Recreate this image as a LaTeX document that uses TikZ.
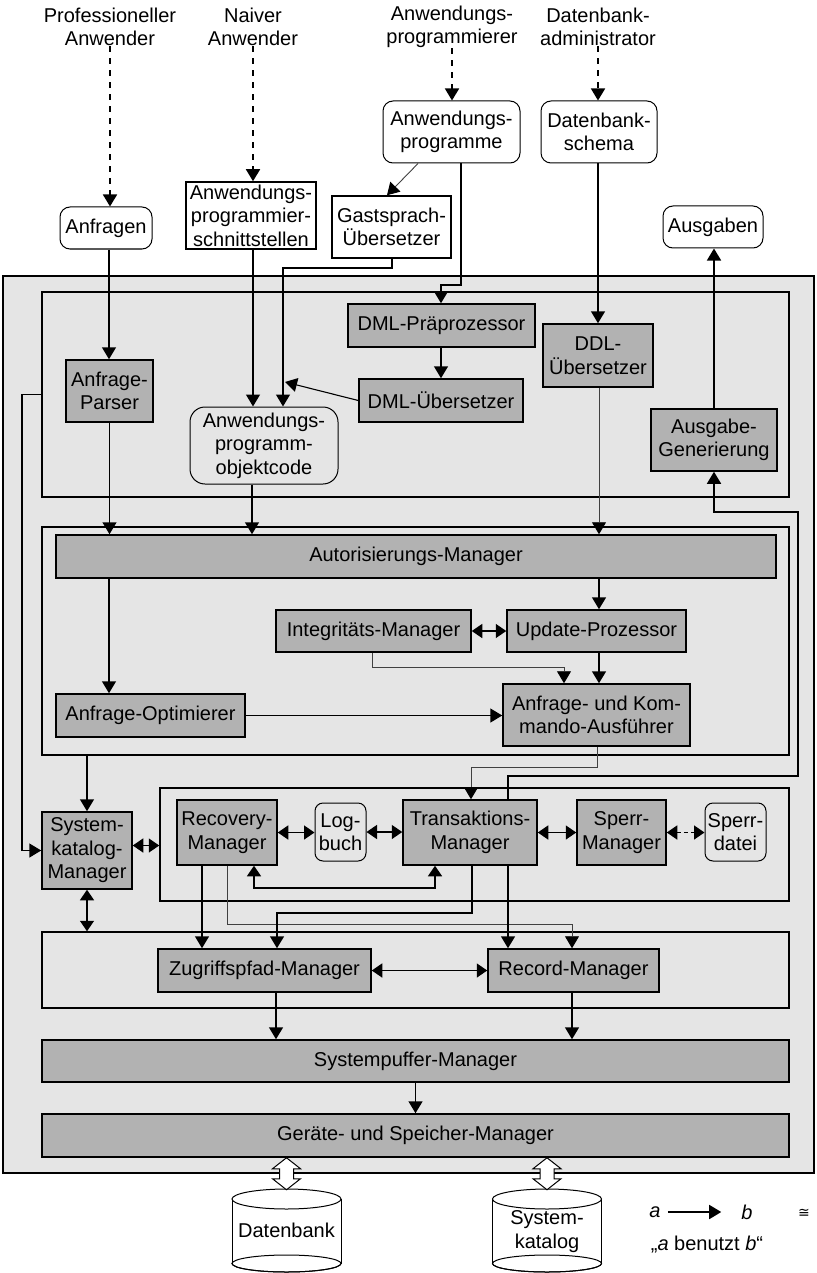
\documentclass[tikz,border=0pt]{standalone}
\usepackage{fontspec}
\setmainfont{Liberation Sans}
\newfontfamily\djv{DejaVu Sans}
\usetikzlibrary{arrows.meta}
\definecolor{dfill}{gray}{0.70}
\definecolor{lfill}{gray}{0.90}
\definecolor{tline}{gray}{0.25}
\tikzset{
  sz/.style 2 args={minimum width=#1pt, minimum height=#2pt},
  lbl/.style={inner sep=0pt, align=center},
  box/.style={draw, line width=1.5pt, fill=dfill, inner sep=0pt, align=center},
  wbox/.style={draw, line width=1.5pt, fill=white, inner sep=0pt, align=center},
  rbox/.style={draw, line width=1pt, rounded corners=10pt, inner sep=0pt, align=center},
  layer/.style={draw, line width=1.5pt, inner sep=0pt},
  arr/.style={line width=1.5pt, -{Triangle[width=14pt,length=12pt]}},
  darr/.style={line width=1.5pt, {Triangle[width=14pt,length=10.5pt]}-{Triangle[width=14pt,length=10.5pt]}},
  ddarr/.style={darr, dash pattern=on 4pt off 3pt},
  tarr/.style={line width=0.9pt, draw=tline, -{Triangle[width=14pt,length=12pt,color=black]}},
  dasharr/.style={line width=1.6pt, dash pattern=on 6pt off 6pt, -{Triangle[width=14pt,length=12pt]}},
  cyl/.style={line width=1pt},
}
\newcommand\fatarrow[1]{\filldraw[fill=white, line width=1pt] (#1) -- ++(-14,11) -- ++(7,0) -- ++(0,10) -- ++(-7,0) -- ++(14,11) -- ++(14,-11) -- ++(-7,0) -- ++(0,-10) -- ++(7,0) -- cycle;}
\newcommand\dbcyl[1]{%
  \filldraw[cyl, fill=white] ([shift={(0,74.5)}]#1) ellipse [x radius=54.5pt, y radius=8.5pt];
  \fill[white] ([shift={(-54.5,10)}]#1) rectangle ([shift={(54.5,74.5)}]#1);
  \draw[cyl] ([shift={(0,74.5)}]#1) ellipse [x radius=54.5pt, y radius=8.5pt];
  \draw[cyl] ([shift={(-54.5,10)}]#1) -- ([shift={(-54.5,74.5)}]#1);
  \draw[cyl] ([shift={(54.5,10)}]#1) -- ([shift={(54.5,74.5)}]#1);
  \filldraw[cyl, fill=white] ([shift={(0,10)}]#1) ellipse [x radius=54.5pt, y radius=10pt];}
\begin{document}
\begin{tikzpicture}[x=1pt, y=-1pt, font=\fontsize{20}{23.5}\selectfont]
\useasboundingbox (0,0) rectangle (816,1273);

% outer box and layers
\node[draw, line width=1.5pt, fill=lfill, inner sep=0pt, sz={811}{897}] (outer) at (408.5,724.5) {};
\node[layer, sz={747}{205}] (L1) at (415.5,394.5) {};
\node[layer, sz={747}{228}] (L2) at (415.5,641) {};
\node[layer, sz={629}{113}] (L3) at (474.5,844.5) {};
\node[layer, sz={747}{76}] (L4) at (415.5,970) {};

% users
\node[lbl] (prof) at (110,27) {Professioneller\\Anwender};
\node[lbl] (naiv) at (253,27) {Naiver\\Anwender};
\node[lbl] (apgm) at (452,27) {Anwendungs-\\programmierer};
\node[lbl] (dba) at (598,27) {Datenbank-\\administrator};

% outside boxes
\node[rbox, fill=white, sz={92}{42}] (anfragen) at (106,228) {Anfragen};
\node[wbox, sz={130}{67}] (api) at (251,215.5) {Anwendungs-\\programmier-\\schnittstellen};
\node[wbox, sz={119}{62}] (gast) at (391.5,227) {Gastsprach-\\Übersetzer};
\node[rbox, fill=white, sz={137}{62}] (anwprog) at (451.5,132) {Anwendungs-\\programme};
\node[rbox, fill=white, sz={116}{62}] (dbschema) at (599,132) {Datenbank-\\schema};
\node[rbox, fill=white, sz={100}{42}] (ausgaben) at (713,227) {Ausgaben};

% layer 1
\node[box, sz={87}{62}] (parser) at (109.5,391) {Anfrage-\\Parser};
\node[box, sz={187}{43}] (dmlpre) at (441.5,325.5) {DML-Präprozessor};
\node[box, sz={164}{43}] (dmlueb) at (441,400.5) {DML-Übersetzer};
\node[rbox, rounded corners=15pt, sz={148}{77}] (objcode) at (264,445.5) {Anwendungs-\\programm-\\objektcode};
\node[box, sz={110}{63}] (ddl) at (598,355.5) {DDL-\\Übersetzer};
\node[box, sz={126}{62}] (ausgen) at (714,440) {Ausgabe-\\Generierung};

% layer 2
\node[box, sz={720}{43}] (autor) at (416,556.5) {Autorisierungs-Manager};
\node[box, sz={195}{42}] (integ) at (373.5,631) {Integritäts-Manager};
\node[box, sz={179}{42}] (update) at (596.5,631) {Update-Prozessor};
\node[box, sz={187}{62}] (ausf) at (596.5,715) {Anfrage- und Kom-\\mando-Ausführer};
\node[box, sz={189}{43}] (optim) at (150.5,715.5) {Anfrage-Optimierer};

% layer 3
\node[box, sz={90}{77}] (syskat) at (87,850.5) {System-\\katalog-\\Manager};
\node[box, sz={100}{65}] (recov) at (227,832.5) {Recovery-\\Manager};
\node[rbox, rounded corners=8pt, sz={51}{58}] (logbuch) at (340.5,832) {Log-\\buch};
\node[box, sz={134}{65}] (trans) at (470,832.5) {Transaktions-\\Manager};
\node[box, sz={89}{65}] (sperrm) at (621.5,832.5) {Sperr-\\Manager};
\node[rbox, rounded corners=8pt, sz={61}{58}] (sperrd) at (735.5,832) {Sperr-\\datei};

% layer 4 and below
\node[box, sz={213}{43}] (zugriff) at (264.5,970.5) {Zugriffspfad-Manager};
\node[box, sz={171}{43}] (record) at (573.5,970.5) {Record-Manager};
\node[box, sz={747}{42}] (puffer) at (415.5,1061) {Systempuffer-Manager};
\node[box, sz={747}{43}] (geraete) at (415.5,1135.5) {Geräte- und Speicher-Manager};

% cylinders
\coordinate (dbc) at (286.5,1189);
\coordinate (skc) at (547,1189);
\dbcyl{dbc}
\dbcyl{skc}
\node[lbl] (dbl) at ([shift={(0,41)}]dbc) {Datenbank};
\node[lbl] (skl) at ([shift={(0,42.5)}]skc) {System-\\katalog};
\fatarrow{geraete.south -| dbc}
\fatarrow{geraete.south -| skc}

% user arrows
\draw[dasharr] (prof.south) -- (prof.south |- anfragen.north);
\draw[dasharr] (naiv.south) -- (naiv.south |- api.north);
\draw[dasharr] (apgm.south) -- (apgm.south |- anwprog.north);
\draw[dasharr] (dba.south) -- (dba.south |- dbschema.north);

% top connectors
\draw[tarr] (anwprog.south -| 418,0) -- (gast.north -| 387,0);
\draw[arr] (anfragen.south -| 109,0) -- (parser.north -| 109,0);
\draw[arr] (api.south -| 253,0) -- (objcode.north -| 253,0);
\draw[arr] (gast.south -| 392,0) |- (283,268) -- (objcode.north -| 283,0);
\draw[arr] (anwprog.south -| 461,0) |- (441,285) -- (dmlpre.north -| 441,0);
\draw[arr] (dbschema.south -| 598,0) -- (ddl.north -| 598,0);
\draw[arr] (dmlpre.south -| 441,0) -- (dmlueb.north -| 441,0);
\coordinate (j1) at (285,382);
\draw[line width=1.1pt, -{Triangle[width=14pt,length=12pt]}] (dmlueb.west) -- (j1);
\draw[arr] (parser.south) -- (parser.south |- autor.north);
\draw[arr] (objcode.south -| 252,0) -- (autor.north -| 252,0);
\draw[tarr] (ddl.south -| 599,0) -- (autor.north -| 599,0);
\draw[arr] (ausgen.north) -- (ausgen.north |- ausgaben.south);
\draw[arr] (L1.west) -- (22,394.5) |- (syskat.west);

% layer 2 connectors
\draw[arr] (autor.south -| 109,0) -- (optim.north -| 109,0);
\draw[arr] (autor.south -| 599,0) -- (update.north -| 599,0);
\draw[darr] (integ.east) -- (update.west);
\draw[arr] (update.south -| 599,0) -- (ausf.north -| 599,0);
\draw[tarr] (integ.south -| 372,0) |- (564,667) -- (ausf.north -| 564,0);
\draw[arr] (optim.east) -- (optim.east -| ausf.west);
\draw[tarr] (ausf.south -| 597,0) |- (471,767) -- (trans.north -| 471,0);
\draw[arr] (trans.north -| 508,0) |- (798,776) |- (714,512) -- (ausgen.south);
\draw[arr] (L2.south -| 87,0) -- (syskat.north);

% layer 3 connectors
\draw[darr] ([yshift=5pt]syskat.east) -- ([yshift=5pt]syskat.east -| L3.west);
\draw[darr] (syskat.south) -- (syskat.south |- L4.north);
\draw[darr] (recov.east) -- (recov.east -| logbuch.west);
\draw[darr] (logbuch.east) -- (logbuch.east -| trans.west);
\draw[darr] (trans.east) -- (trans.east -| sperrm.west);
\draw[ddarr] (sperrm.east) -- (sperrm.east -| sperrd.west);
\draw[darr] (recov.south -| 254,0) |- (435,888) -- (trans.south -| 435,0);
\draw[arr] (recov.south -| 202,0) -- (zugriff.north -| 202,0);
\draw[tarr] (recov.south -| 227,0) |- (572,924) -- (record.north -| 572,0);
\draw[arr] (trans.south -| 472,0) |- (277,913) -- (zugriff.north -| 277,0);
\draw[arr] (trans.south -| 508,0) -- (record.north -| 508,0);

% layer 4 connectors
\draw[darr] (zugriff.east) -- (record.west);
\draw[arr] (zugriff.south -| 276,0) -- (puffer.north -| 276,0);
\draw[arr] (record.south -| 572,0) -- (puffer.north -| 572,0);
\draw[arr] (puffer.south) -- (geraete.north);

% legend
\node[lbl] (la) at (655,1212) {\itshape a};
\node[lbl] (lb) at (747,1212) {\itshape b};
\draw[arr] ([xshift=7pt]la.east) -- ([xshift=-20pt]lb.west);
\node[lbl] (leq) at (804,1213) {\djv\fontsize{14}{16}\selectfont ≅};
\node[lbl] (ltxt) at (707,1245) {„\textit{a} benutzt \textit{b}“};
\end{tikzpicture}
\end{document}
